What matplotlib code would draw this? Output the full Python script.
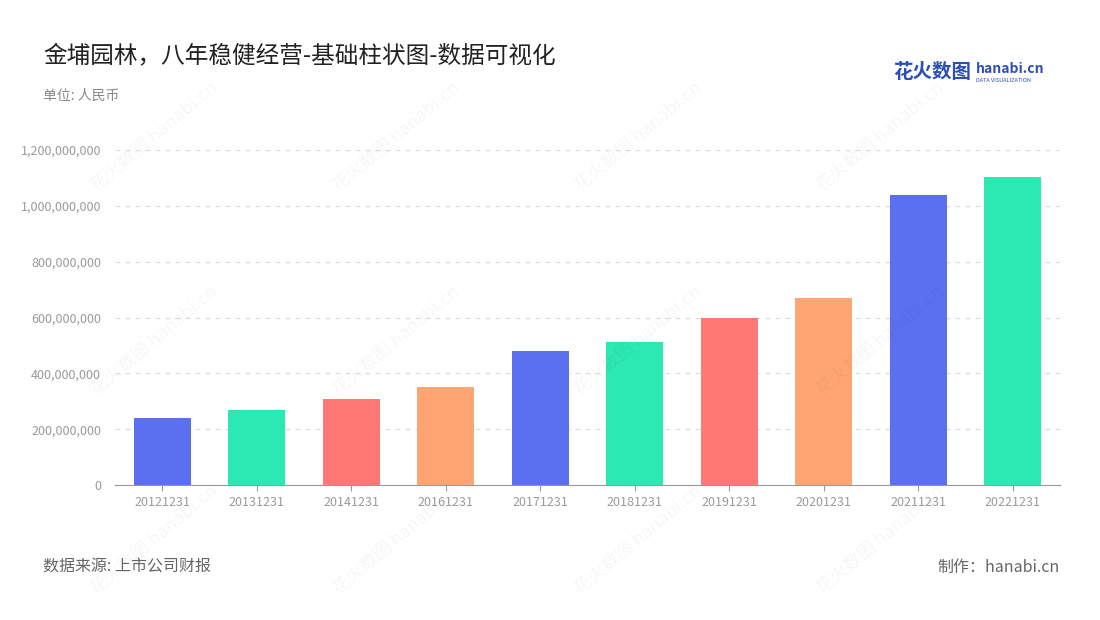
import matplotlib
matplotlib.use("Agg")
import matplotlib.pyplot as plt
from matplotlib.ticker import FuncFormatter

plt.rcParams['font.family'] = ['Noto Sans CJK SC', 'DejaVu Sans']

categories = ["20121231", "20131231", "20141231", "20161231", "20171231",
              "20181231", "20191231", "20201231", "20211231", "20221231"]
values = [240e6, 269e6, 308e6, 351e6, 479e6, 511e6, 598e6, 669e6, 1039e6, 1103e6]
palette = ["#5A70F0", "#2CE8B2", "#FF7873", "#FFA573"]

fig = plt.figure(figsize=(11, 6.2), dpi=100)
ax = fig.add_axes([115/1100, 1-485/620, 945/1100, 335/620])
colors = [palette[i % 4] for i in range(len(values))]
ax.bar(range(len(values)), values, width=0.6, color=colors, zorder=3)
ax.set_xlim(-0.5, len(values)-0.5)
ax.set_ylim(0, 1.2e9)
ax.set_yticks([0, 2e8, 4e8, 6e8, 8e8, 1e9, 1.2e9])
ax.yaxis.set_major_formatter(FuncFormatter(lambda v, p: f"{int(v):,}"))
ax.set_xticks(range(len(values)))
ax.set_xticklabels(categories)
ax.tick_params(axis='y', length=0, labelsize=9, colors='#9a9a9a', pad=10)
ax.tick_params(axis='x', length=4, labelsize=9, colors='#9a9a9a', pad=4)
ax.grid(axis='y', color='#dddddd', linestyle=(0, (4, 4)), linewidth=0.9, zorder=0)
for s in ['top', 'right', 'left']:
    ax.spines[s].set_visible(False)
ax.spines['bottom'].set_color('#999999')

# watermarks
for x in [0.14, 0.36, 0.58, 0.80]:
    for y in [0.78, 0.45, 0.13]:
        fig.text(x, y, "花火数图 hanabi.cn", rotation=40, fontsize=13,
                 color='#000000', alpha=0.035, ha='center', va='center')

fig.text(43/1100, 1-56/620, "金埔园林，八年稳健经营-基础柱状图-数据可视化", fontsize=17,
         color='#222222', va='center')
fig.text(43/1100, 1-96/620, "单位: 人民币", fontsize=10, color='#888888', va='center')
fig.text(43/1100, 1-567/620, "数据来源: 上市公司财报", fontsize=11.5, color='#666666', va='center')
fig.text(1060/1100, 1-567/620, "制作：hanabi.cn", fontsize=11.5, color='#666666', va='center', ha='right')
fig.text(893/1100, 1-72/620, "花火数图", fontsize=14, color='#2b4fb5', va='center', weight='bold')
fig.text(976/1100, 1-69/620, "hanabi.cn", fontsize=10, color='#2b4fb5', va='center', weight='bold')
fig.text(976/1100, 1-80/620, "DATA VISUALIZATION", fontsize=4, color='#2b4fb5', va='center')

fig.savefig("out.png", dpi=100)
